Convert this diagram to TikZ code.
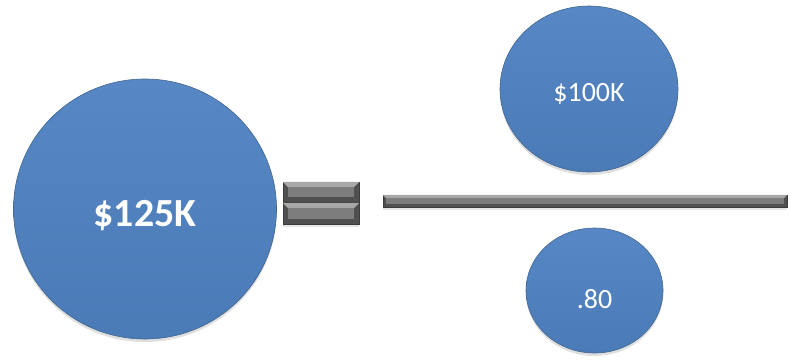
\documentclass[tikz,border=0pt]{standalone}
\usepackage{fontspec}
\setmainfont{Carlito}
\usetikzlibrary{shapes.geometric}
\usetikzlibrary{positioning}
\usetikzlibrary{calc}
\usetikzlibrary{shadows}

\definecolor{blobtop}{HTML}{5787C4}
\definecolor{blobbottom}{HTML}{4A7BB7}
\definecolor{blobedge}{HTML}{41668F}
\definecolor{barlight}{HTML}{A8A8A8}
\definecolor{barmid}{HTML}{7D7D7D}
\definecolor{bardark}{HTML}{505050}
\definecolor{baredge}{HTML}{3C3C3C}

\begin{document}
\begin{tikzpicture}
			[
				x = 1bp, y = 1bp,
				blob/.style = {ellipse, inner sep = 0pt, draw = blobedge, line width = 0.6bp, top color = blobtop, bottom color = blobbottom, text = white, drop shadow = {opacity = 0.25, shadow xshift = 0bp, shadow yshift = -3bp}},
				bar/.style = {rectangle, inner sep = 0pt, fill = bardark, draw = baredge, line width = 0.4bp, drop shadow = {opacity = 0.2, shadow xshift = 0bp, shadow yshift = -3bp}},
			]
			\useasboundingbox (0,0) rectangle (791,-362);
			% left side
			\node (salary) [blob, minimum width = 263bp, minimum height = 260bp, font = \fontsize{40}{48}\selectfont\bfseries] at (145,-209) {\raisebox{-17bp}[0pt][0pt]{\$125K}};
			\node (eqtop) [bar, minimum width = 76bp, minimum height = 20bp] at (321,-192) {};
			\node (eqbot) [bar, minimum width = 76bp, minimum height = 21bp] at (321,-213.5) {};
			% right side
			\node (fracbar) [bar, minimum width = 404bp, minimum height = 12bp] at (585,-201) {};
			\node (amount) [blob, minimum width = 178bp, minimum height = 166bp, font = \fontsize{28}{34}\selectfont] at (589,-89) {\raisebox{-12bp}[0pt][0pt]{\$100K}};
			\node (rate) [blob, minimum width = 137bp, minimum height = 125bp, font = \fontsize{28}{34}\selectfont] at (594.5,-290.5) {\raisebox{-18bp}[0pt][0pt]{.80}};
			% bevels
			\foreach \b/\s in {eqtop/5, eqbot/5, fracbar/3}
			{
				\fill [barlight] (\b.north west) -- (\b.north east) -- ++(-\s,-\s) -- ($(\b.north west)+(\s,-\s)$) -- cycle;
				\fill [barmid] ($(\b.north west)+(\s,-\s)$) rectangle ($(\b.south east)+(-\s,\s)$);
			}
		\end{tikzpicture}
\end{document}
